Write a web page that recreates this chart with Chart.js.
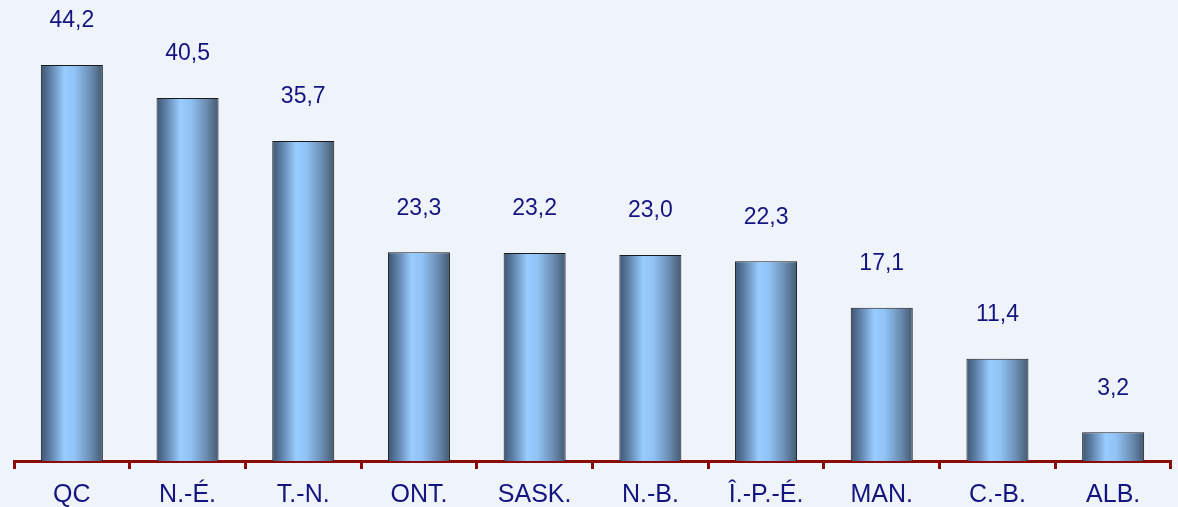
<!DOCTYPE html>
<html>
<head>
<meta charset="utf-8">
<script src="https://cdn.jsdelivr.net/npm/chart.js@4.4.0/dist/chart.umd.min.js"></script>
<style>
  html, body { margin: 0; padding: 0; background: #eff4fa; }
  #wrap { width: 1178px; height: 507px; }
</style>
</head>
<body>
<div id="wrap"><canvas id="chart"></canvas></div>
<script>
// Provinces and values
const provinces = ['QC', 'N.-É.', 'T.-N.', 'ONT.', 'SASK.', 'N.-B.', 'Î.-P.-É.', 'MAN.', 'C.-B.', 'ALB.'];
const values = [44.2, 40.5, 35.7, 23.3, 23.2, 23.0, 22.3, 17.1, 11.4, 3.2];

const BAR_PCT = 0.536;

// cylinder-like shading across each bar
function barGradient(context) {
    const chart = context.chart;
    if (!chart.chartArea) return '#88b4e0';
    const xScale = chart.scales.x;
    const cx = xScale.getPixelForValue(context.dataIndex);
    const half = (xScale.width / provinces.length) * BAR_PCT / 2;
    const g = chart.ctx.createLinearGradient(cx - half, 0, cx + half, 0);
    g.addColorStop(0, '#3d5572');
    g.addColorStop(0.15, '#5d7fa6');
    g.addColorStop(0.38, '#99ccff');
    g.addColorStop(0.55, '#90c2f4');
    g.addColorStop(0.8, '#6b8db3');
    g.addColorStop(1, '#44596f');
    return g;
}

// value labels above bars, french decimal comma
const valueLabels = {
    id: 'valueLabels',
    afterDatasetsDraw(chart) {
        const ctx = chart.ctx;
        const meta = chart.getDatasetMeta(0);
        ctx.save();
        ctx.fillStyle = '#141480';
        ctx.font = '23px "Liberation Sans", Arial, sans-serif';
        ctx.textAlign = 'center';
        ctx.textBaseline = 'middle';
        meta.data.forEach((bar, i) => {
            ctx.fillText(values[i].toFixed(1).replace('.', ','), bar.x, bar.y - 44);
        });
        ctx.restore();
    }
};

new Chart(document.getElementById('chart'), {
    type: 'bar',
    data: {
        labels: provinces,
        datasets: [{
            data: values,
            backgroundColor: barGradient,
            borderColor: '#1a1a1a',
            borderWidth: 1,
            borderSkipped: 'bottom',
            categoryPercentage: 1,
            barPercentage: BAR_PCT
        }]
    },
    options: {
        responsive: true,
        maintainAspectRatio: false,
        animation: false,
        layout: { padding: { left: 14, right: 7, top: 0, bottom: 0 } },
        plugins: {
            legend: { display: false },
            tooltip: { enabled: false }
        },
        scales: {
            x: {
                offset: true,
                afterFit(scale) { scale.height = 46; },
                grid: {
                    offset: true,
                    drawOnChartArea: false,
                    drawTicks: true,
                    tickLength: 8,
                    tickWidth: 3,
                    tickColor: '#8b0a0a'
                },
                border: { display: true, color: '#8b0a0a', width: 3 },
                ticks: {
                    color: '#141480',
                    padding: 11,
                    font: { family: '"Liberation Sans", Arial, sans-serif', size: 25, lineHeight: 1.2 }
                }
            },
            y: {
                display: false,
                min: 0,
                max: 51.45
            }
        }
    },
    plugins: [valueLabels]
});
</script>
</body>
</html>
